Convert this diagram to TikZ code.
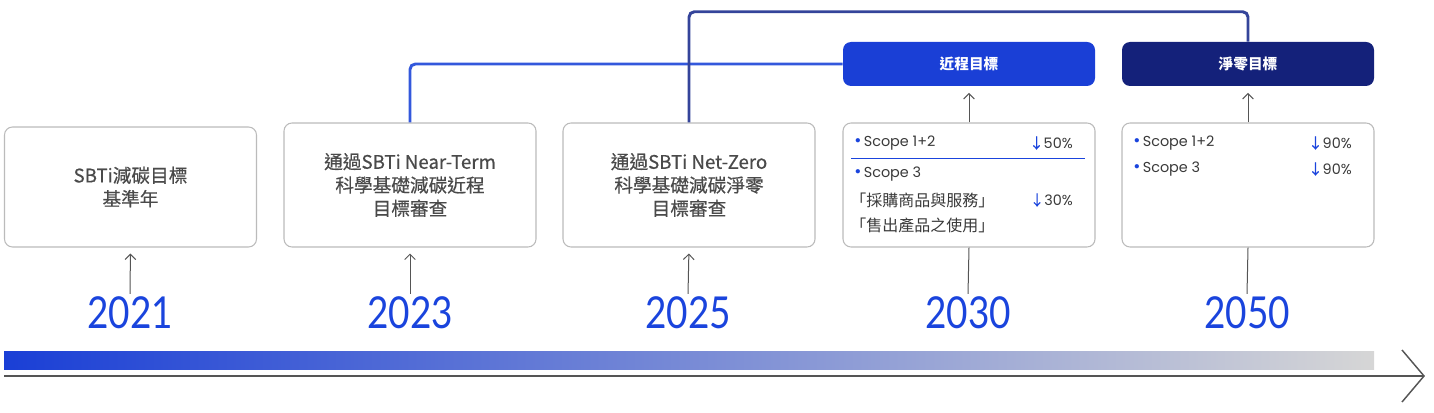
\documentclass[tikz,border=0pt]{standalone}
\usepackage{fontspec}
\setmainfont{Noto Sans CJK TC}
\newfontfamily\yearfont[FakeStretch=0.84]{Lato}
\newfontfamily\cardfont[FakeBold=0.5]{Noto Sans CJK TC}
\newfontfamily\itemfont{Poppins}
\usetikzlibrary{arrows.meta}
\definecolor{boxgray}{HTML}{BBBBBB}
\definecolor{txtgray}{HTML}{4A4A4A}
\definecolor{itemgray}{HTML}{3A3A3A}
\definecolor{royal}{HTML}{1A3FD6}
\definecolor{navy}{HTML}{14217A}
\definecolor{yearblue}{HTML}{1A44DD}
\definecolor{linegray}{HTML}{555555}
\definecolor{barend}{HTML}{D6D6D6}
\definecolor{linkA}{HTML}{3358DC}
\definecolor{linkB}{HTML}{34449A}
\newcommand{\dn}[1]{{\cardfont\color{yearblue}↓}{\itemfont #1}}
\newcommand{\dotb}{{\color{yearblue}\fontsize{13}{13}\selectfont•}\,}
\tikzset{
  card/.style={draw=boxgray, line width=0.8pt, rounded corners=6pt, fill=white, minimum width=189pt, minimum height=93pt, text=txtgray, align=center, font=\cardfont\fontsize{14}{17.5}\selectfont},
  head/.style={rounded corners=6pt, minimum width=189pt, minimum height=33pt, text=white, font=\bfseries\fontsize{11}{13}\selectfont},
  year/.style={inner sep=2pt, text=yearblue, font=\yearfont\fontsize{33}{36}\selectfont},
  item/.style={anchor=west, inner sep=0pt, text=itemgray, font=\itemfont\fontsize{10.8}{12}\selectfont},
  itemzh/.style={anchor=west, inner sep=0pt, text=itemgray, font=\fontsize{12}{14}\selectfont},
  pct/.style={anchor=east, inner sep=0pt, text=itemgray, font=\fontsize{10.8}{12}\selectfont},
  tick/.style={draw=linegray, line width=0.75pt, -{Straight Barb[length=4pt,width=8pt]}},
}
\begin{document}
\begin{tikzpicture}[x=0.75pt,y=-0.75pt]
    \useasboundingbox (0,0) rectangle (1434,413);

    % links on top
    \node[card] (b2023) at (410,185) {通過SBTi Near-Term\\科學基礎減碳近程\\目標審查};
    \node[card] (b2025) at (689,185) {通過SBTi Net-Zero\\科學基礎減碳淨零\\目標審查};
    \node[head, fill=royal] (h2030) at (969,64) {近程目標};
    \node[head, fill=navy] (h2050) at (1248,64) {淨零目標};
    \draw[linkA, line width=2.2pt, rounded corners=4pt] (b2023.north) |- (h2030.west);
    \draw[linkB, line width=2.2pt, rounded corners=4pt] (b2025.north) |- ([yshift=22.5pt]h2050.north) -- (h2050.north);

    % cards
    \node[card, minimum height=90pt] (b2021) at (130.5,187) {SBTi減碳目標\\基準年};
    \node[card] (b2030) at (969,185) {};
    \node[card] (b2050) at (1248,185) {};

    \node[item] (s12a) at (854,143) {\dotb Scope 1+2};
    \node[pct] (p12a) at (1073,143) {\dn{50\%}};
    \draw[yearblue, line width=0.75pt] (851,159) -- (1085,159);
    \node[item] (s3a) at (854,174) {\dotb Scope 3};
    \node[itemzh] (buy) at (850,200) {「採購商品與服務」};
    \node[pct] (p3a) at (1073,200) {\dn{30\%}};
    \node[itemzh] (use) at (850,225) {「售出產品之使用」};

    \node[item] (s12b) at (1133,143) {\dotb Scope 1+2};
    \node[pct] (p12b) at (1352,143) {\dn{90\%}};
    \node[item] (s3b) at (1133,169) {\dotb Scope 3};
    \node[pct] (p3b) at (1352,169) {\dn{90\%}};

    % years
    \node[year] (y2021) at (130,313) {2021};
    \node[year] (y2023) at (410,313) {2023};
    \node[year] (y2025) at (688,313) {2025};
    \node[year] (y2030) at (968,313) {2030};
    \node[year] (y2050) at (1247,313) {2050};

    \draw[tick, shorten >=4.5pt] (y2021.north) -- (b2021.south);
    \draw[tick, shorten >=4.5pt] (y2023.north) -- (b2023.south);
    \draw[tick, shorten >=4.5pt] (y2025.north) -- (b2025.south);
    \draw[linegray, line width=0.75pt] (b2030.south) -- (y2030.north);
    \draw[linegray, line width=0.75pt] (b2050.south) -- (y2050.north);
    \draw[tick, shorten >=5pt] (b2030.north) -- (h2030.south);
    \draw[tick, shorten >=5pt] (b2050.north) -- (h2050.south);

    % time bar
    \shade[left color=royal, right color=barend] (4,351) rectangle (1374,369);
    \draw[linegray, line width=1.1pt] (4,376) -- (1424,376);
    \draw[linegray, line width=1.1pt] (1402,350) -- (1424,376) -- (1402,402);
\end{tikzpicture}
\end{document}
